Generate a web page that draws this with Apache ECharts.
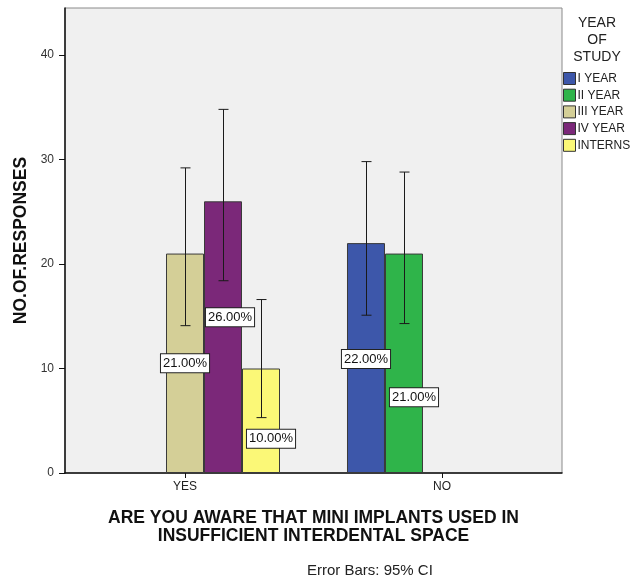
<!DOCTYPE html>
<html><head><meta charset="utf-8">
<script src="https://cdn.jsdelivr.net/npm/echarts@6/dist/echarts.min.js"></script>
<style>html,body{margin:0;padding:0;background:#fff}#c{width:630px;height:581px}</style>
</head><body><div id="c"></div>
<script>
const categories = ['YES', 'NO'];
const seriesNames = ['I YEAR', 'II YEAR', 'III YEAR', 'IV YEAR', 'INTERNS'];
const iYear   = [null, 22];
const iiYear  = [null, 21];
const iiiYear = [21, null];
const ivYear  = [26, null];
const interns = [10, null];
const ciLowIYear = [null, 15.1],  ciHighIYear = [null, 29.8];
const ciLowIIYear = [null, 14.3], ciHighIIYear = [null, 28.8];
const ciLowIIIYear = [14.1, null], ciHighIIIYear = [29.2, null];
const ciLowIVYear = [18.4, null],  ciHighIVYear = [34.8, null];
const ciLowInterns = [5.3, null],  ciHighInterns = [16.6, null];
const yTicks = [0, 10, 20, 30, 40];

const values = [iYear, iiYear, iiiYear, ivYear, interns];
const ciLow = [ciLowIYear, ciLowIIYear, ciLowIIIYear, ciLowIVYear, ciLowInterns];
const ciHigh = [ciHighIYear, ciHighIIYear, ciHighIIIYear, ciHighIVYear, ciHighInterns];
const colors = ['#3d57aa', '#2fb44a', '#d4cf97', '#7b2879', '#fbf877'];
const BW = 38;
// label pixel offsets [series][category]
const labelOffsets = [
  [[0,0],[0,1]],
  [[0,0],[10,34]],
  [[0,0],[0,0]],
  [[7,-20],[0,0]],
  [[10,18],[0,0]]
];
const FONT = 'Liberation Sans, Arial, sans-serif';

const chart = echarts.init(document.getElementById('c'));
const series = seriesNames.map((name, s) => ({
  name, type: 'bar', barWidth: BW, barGap: '0%',
  itemStyle: { color: colors[s], borderColor: '#3a3a3a', borderWidth: 1 },
  data: values[s].map((v, i) => ({
    value: [i, v],
    label: {
      show: v != null, position: 'inside', offset: labelOffsets[s][i],
      formatter: p => p.value[1].toFixed(2) + '%',
      backgroundColor: '#fff', borderColor: '#222', borderWidth: 1,
      padding: [3, 2, 2, 2], color: '#111', fontSize: 13, fontFamily: FONT
    }
  }))
}));
const errData = [];
seriesNames.forEach((n, s) => categories.forEach((c, i) => {
  if (ciLow[s][i] != null) errData.push([i, ciLow[s][i], ciHigh[s][i], s]);
}));
series.push({
  type: 'custom', z: 10, silent: true,
  data: errData,
  renderItem: (params, api) => {
    const x = api.value(0), s = api.value(3);
    const hi = api.coord([x, api.value(2)]);
    const lo = api.coord([x, api.value(1)]);
    const px = Math.round(hi[0] + (s - 2) * BW) + 0.5;
    const cap = 5;
    const st = { stroke: '#1a1a1a', lineWidth: 1 };
    return { type: 'group', children: [
      { type: 'line', shape: { x1: px, y1: hi[1], x2: px, y2: lo[1] }, style: st },
      { type: 'line', shape: { x1: px - cap, y1: hi[1], x2: px + cap, y2: hi[1] }, style: st },
      { type: 'line', shape: { x1: px - cap, y1: lo[1], x2: px + cap, y2: lo[1] }, style: st }
    ]};
  }
});

chart.setOption({
  animation: false,
  textStyle: { fontFamily: FONT },
  grid: { left: 65, top: 8, width: 497, height: 465, show: true,
          backgroundColor: '#f0f0f0', borderColor: '#8a8a8a', borderWidth: 1 },
  legend: {
    data: seriesNames, orient: 'vertical', left: 558, top: 67,
    itemWidth: 12, itemHeight: 12, itemGap: 3.7, icon: 'rect',
    itemStyle: { borderColor: '#333', borderWidth: 1 },
    textStyle: { fontSize: 12, lineHeight: 12, color: '#222', padding: [0, 0, 0, -3] }
  },
  graphic: [
    { type: 'text', x: 597, y: 15, style: { text: 'YEAR\nOF\nSTUDY', fontSize: 14, lineHeight: 17,
      align: 'center', fill: '#222', fontFamily: FONT } },
    { type: 'text', left: 307, top: 563, style: { text: 'Error Bars: 95% CI', fontSize: 15, fill: '#222', fontFamily: FONT } }
  ],
  xAxis: {
    type: 'value', min: -0.467, max: 1.467,
    name: 'ARE YOU AWARE THAT MINI IMPLANTS USED IN\nINSUFFICIENT INTERDENTAL SPACE',
    nameLocation: 'middle', nameGap: 36,
    nameTextStyle: { fontSize: 17.5, fontWeight: 'bold', color: '#111', lineHeight: 18 },
    splitLine: { show: false },
    axisLine: { onZero: false, lineStyle: { color: '#111', width: 1.5 } },
    axisTick: { customValues: [0, 1], length: 5, lineStyle: { color: '#111' } },
    axisLabel: { customValues: [0, 1], formatter: v => categories[Math.round(v)], fontSize: 12, color: '#222', margin: 8 }
  },
  yAxis: {
    type: 'value', min: 0, max: 44.5, interval: 10,
    name: 'NO.OF.RESPONSES', nameLocation: 'middle', nameGap: 34,
    nameTextStyle: { fontSize: 17.5, fontWeight: 'bold', color: '#111' },
    splitLine: { show: false },
    axisLine: { show: true, onZero: false, lineStyle: { color: '#111', width: 1.5 } },
    axisTick: { show: true, length: 6, customValues: yTicks, lineStyle: { color: '#111' } },
    axisLabel: { customValues: yTicks, fontSize: 12, color: '#333', margin: 11 }
  },
  series
});
</script></body></html>
